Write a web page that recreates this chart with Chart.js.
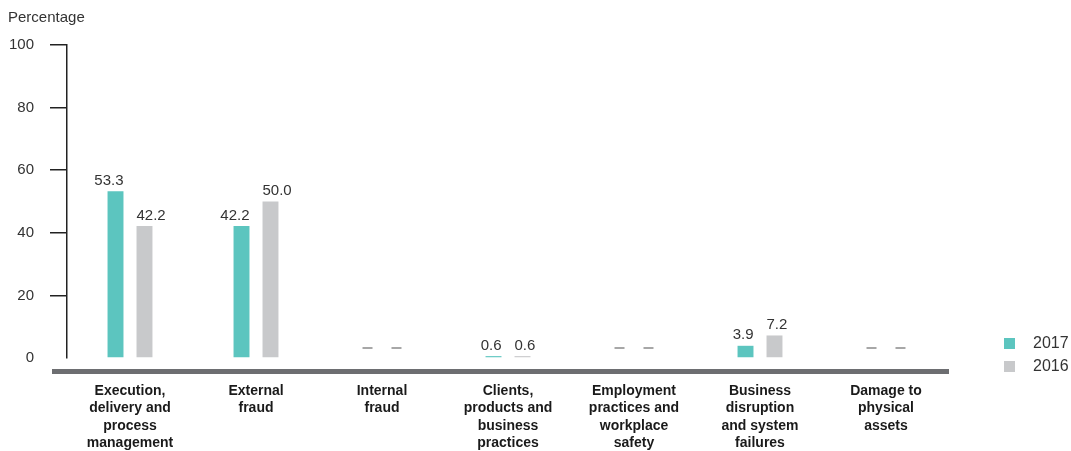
<!DOCTYPE html>
<html>
<head>
<meta charset="utf-8">
<script src="https://cdn.jsdelivr.net/npm/chart.js@4"></script>
<style>
  html, body { margin: 0; padding: 0; background: #fff; }
  #wrap { width: 1071px; height: 451px; position: relative; }
</style>
</head>
<body>
<div id="wrap"><canvas id="lossChart" width="1071" height="451"></canvas></div>
<script>
const categories = [
    ['Execution,', 'delivery and', 'process', 'management'],
    ['External', 'fraud'],
    ['Internal', 'fraud'],
    ['Clients,', 'products and', 'business', 'practices'],
    ['Employment', 'practices and', 'workplace', 'safety'],
    ['Business', 'disruption', 'and system', 'failures'],
    ['Damage to', 'physical', 'assets']
]
// null = no loss events in that category (drawn as a dash)
const values2017 = [53.3, 42.2, null, 0.6, null, 3.9, null]
const values2016 = [42.2, 50.0, null, 0.6, null, 7.2, null]
const yTicks = [0, 20, 40, 60, 80, 100]

const TEAL = '#5cc5bf'
const GREY = '#c8c9cb'
const FONT = '"Liberation Sans", Arial, sans-serif'

// value labels, dashes for empty cells, base bar, axis title and legend
const decorations = {
    id: 'decorations',
    afterDatasetsDraw(chart) {
        const ctx = chart.ctx
        const area = chart.chartArea
        ctx.save()
        chart.data.datasets.forEach((ds, i) => {
            const meta = chart.getDatasetMeta(i)
            meta.data.forEach((bar, j) => {
                const v = ds.data[j]
                if (v === null) {
                    ctx.strokeStyle = '#8a8a8a'
                    ctx.lineWidth = 1.5
                    ctx.beginPath()
                    ctx.moveTo(bar.x - 5, area.bottom - 10)
                    ctx.lineTo(bar.x + 5, area.bottom - 10)
                    ctx.stroke()
                } else {
                    // first series labels hug the bar's right edge, second its left edge
                    const half = bar.width / 2
                    ctx.fillStyle = '#333'
                    ctx.font = '15px ' + FONT
                    ctx.textAlign = i === 0 ? 'right' : 'left'
                    ctx.textBaseline = 'bottom'
                    ctx.fillText(v.toFixed(1), i === 0 ? bar.x + half : bar.x - half, bar.y - 3)
                }
            })
        })

        // thick base bar under the plot
        ctx.fillStyle = '#6d6e71'
        ctx.fillRect(52, area.bottom + 11, area.right - 52, 5)

        // axis title
        ctx.fillStyle = '#333'
        ctx.font = '15px ' + FONT
        ctx.textAlign = 'left'
        ctx.textBaseline = 'middle'
        ctx.fillText('Percentage', 8, 18)

        // legend
        ctx.font = '16px ' + FONT
        chart.data.datasets.forEach((ds, i) => {
            const y = 344 + i * 23
            ctx.fillStyle = ds.backgroundColor
            ctx.fillRect(1004, y - 6, 11, 11)
            ctx.fillStyle = '#333'
            ctx.fillText(ds.label, 1033, y)
        })
        ctx.restore()
    }
}

const ctx = document.getElementById('lossChart').getContext('2d')
new Chart(ctx, {
    type: 'bar',
    data: {
        labels: categories,
        datasets: [
            { label: '2017', data: values2017, backgroundColor: TEAL },
            { label: '2016', data: values2016, backgroundColor: GREY }
        ]
    },
    options: {
        responsive: false,
        animation: false,
        devicePixelRatio: 1,
        categoryPercentage: 0.46,
        barPercentage: 0.55,
        layout: { padding: { left: 0, top: 45, right: 122, bottom: 0 } },
        scales: {
            x: {
                grid: { display: false, drawTicks: false },
                border: { display: false },
                ticks: {
                    autoSkip: false,
                    maxRotation: 0,
                    padding: 24,
                    color: '#1a1a1a',
                    font: { family: FONT, size: 14, weight: 'bold', lineHeight: 1.25 }
                },
                afterFit(scale) { scale.height = 93 }
            },
            y: {
                min: 0,
                max: 100,
                afterBuildTicks(scale) { scale.ticks = yTicks.map(v => ({ value: v })) },
                grid: {
                    drawOnChartArea: false,
                    tickLength: 17,
                    lineWidth: 1.5,
                    color: c => c.tick && c.tick.value === 0 ? 'rgba(0,0,0,0)' : '#222'
                },
                border: { display: true, color: '#222', width: 1.5 },
                ticks: {
                    padding: 16,
                    color: '#333',
                    font: { family: FONT, size: 15 }
                },
                afterFit(scale) { scale.width = 67 }
            }
        },
        plugins: {
            legend: { display: false },
            tooltip: { enabled: false }
        }
    },
    plugins: [decorations]
})
</script>
</body>
</html>
